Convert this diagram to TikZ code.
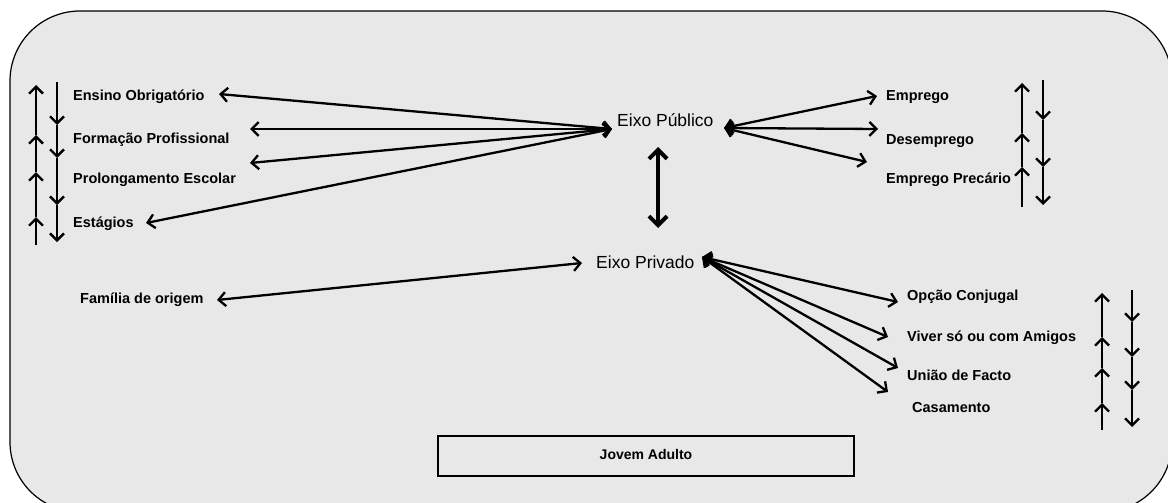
\documentclass[tikz,border=0pt]{standalone}
\usepackage{fontspec}
\setmainfont{Liberation Sans}
\usetikzlibrary{arrows.meta}
\definecolor{bg}{HTML}{E8E8E8}
\begin{document}
\begin{tikzpicture}[x=1pt,y=-1pt,
 lbl/.style={font=\bfseries\fontsize{14.5}{16}\selectfont, anchor=west, inner sep=0},
 eixo/.style={font=\fontsize{17.5}{20}\selectfont, anchor=west, inner sep=0},
 barb/.tip={Straight Barb[length=7pt,width=14pt]},
 conn/.style={line width=2.3pt, barb-barb},
 one/.style={line width=2.3pt, -barb},
 big/.style={line width=4pt, {Straight Barb[length=9pt,width=18pt]}-{Straight Barb[length=9pt,width=18pt]}},
]
\useasboundingbox (0,0) rectangle (1168,503);
\begin{scope}
\clip (0,0) rectangle (1168,503);
\draw[fill=bg, line width=1.2pt, rounded corners=70pt] (10,11) rectangle (1172,512);
\end{scope}

% labels
\node[lbl] (ens) at (73,97) {Ensino Obrigatório};
\node[lbl] (form) at (73,140) {Formação Profissional};
\node[lbl] (prol) at (73,180) {Prolongamento Escolar};
\node[lbl] (est) at (73,224) {Estágios};
\node[eixo] (pub) at (617,120) {Eixo Público};
\node[eixo] (priv) at (596,262) {Eixo Privado};
\node[lbl] (emp) at (886,97) {Emprego};
\node[lbl] (desemp) at (886,141) {Desemprego};
\node[lbl] (prec) at (886,180) {Emprego Precário};
\node[lbl] (fam) at (80,300) {Família de origem};
\node[lbl] (opc) at (907,297) {Opção Conjugal};
\node[lbl] (viv) at (907,338) {Viver só ou com Amigos};
\node[lbl] (uni) at (907,375) {União de Facto};
\node[lbl] (cas) at (912,408) {Casamento};
\node[draw, line width=1.2pt, minimum width=416pt, minimum height=40pt, inner sep=0,
      font=\bfseries\fontsize{14}{16}\selectfont] (jov) at (646,456) {\raisebox{3pt}{Jovem Adulto}};

% hub coordinates
\coordinate (pubL) at (612,129);
\coordinate (pubR) at (724,128);
\coordinate (privL) at (582,263);
\coordinate (privR) at (702,257);
\coordinate (pubB) at (658,147);
\coordinate (privT) at (658,228);

% arrow ends
\coordinate (ensE) at (219,94);
\coordinate (formE) at (250,129);
\coordinate (prolE) at (250,163);
\coordinate (estE) at (146,223);
\coordinate (empE) at (877,96);
\coordinate (desE) at (878,129);
\coordinate (precE) at (867,162);
\coordinate (famE) at (217,300);
\coordinate (opcE) at (898,302);
\coordinate (vivE) at (888,337);
\coordinate (uniE) at (898,368);
\coordinate (casE) at (888,392);

\foreach \e in {ensE,formE,prolE,estE} \draw[conn] (pubL) -- (\e);
\foreach \e in {empE,desE,precE} \draw[conn] (pubR) -- (\e);
\foreach \e in {opcE,vivE,uniE,casE} \draw[conn] (privR) -- (\e);
\draw[conn] (famE) -- (privL);
\draw[big] (pubB) -- (privT);

% stacked vertical arrows: left
\coordinate (lu0) at (36,245);
\coordinate (lu1) at (36,217);
\coordinate (lu2) at (36,172);
\coordinate (lu3) at (36,135);
\coordinate (lu4) at (36,85);
\coordinate (ld0) at (57,82);
\coordinate (ld1) at (57,125);
\coordinate (ld2) at (57,158);
\coordinate (ld3) at (57,205);
\coordinate (ld4) at (57,242);
% upper right
\coordinate (ru0) at (1022,207);
\coordinate (ru1) at (1022,167);
\coordinate (ru2) at (1022,133);
\coordinate (ru3) at (1022,83);
\coordinate (rd0) at (1043,80);
\coordinate (rd1) at (1043,120);
\coordinate (rd2) at (1043,167);
\coordinate (rd3) at (1043,205);
% lower right
\coordinate (su0) at (1102,430);
\coordinate (su1) at (1102,403);
\coordinate (su2) at (1102,368);
\coordinate (su3) at (1102,337);
\coordinate (su4) at (1102,293);
\coordinate (sd0) at (1132,290);
\coordinate (sd1) at (1132,322);
\coordinate (sd2) at (1132,357);
\coordinate (sd3) at (1132,390);
\coordinate (sd4) at (1132,427);

\foreach \a/\b in {lu0/lu1,lu1/lu2,lu2/lu3,lu3/lu4,ld0/ld1,ld1/ld2,ld2/ld3,ld3/ld4,
  ru0/ru1,ru1/ru2,ru2/ru3,rd0/rd1,rd1/rd2,rd2/rd3,
  su0/su1,su1/su2,su2/su3,su3/su4,sd0/sd1,sd1/sd2,sd2/sd3,sd3/sd4}
  \draw[one] (\a) -- (\b);
\end{tikzpicture}
\end{document}
